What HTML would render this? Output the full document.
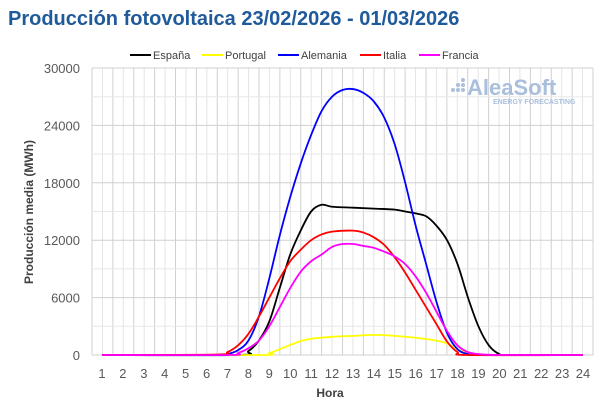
<!DOCTYPE html>
<html><head><meta charset="utf-8"><style>
body{margin:0;background:#fff;width:600px;height:420px;overflow:hidden}
svg{display:block}
text{font-family:"Liberation Sans",sans-serif}
</style></head><body>
<svg id="s" width="600" height="420" xmlns="http://www.w3.org/2000/svg">
<text x="8" y="25" font-size="20" font-weight="bold" fill="#1f5a9a">Producción fotovoltaica 23/02/2026 - 01/03/2026</text>
<g id="grid"></g>
<g font-size="11" fill="#404040">
<line x1="130" y1="55" x2="151" y2="55" stroke="#000" stroke-width="2"/><text x="153" y="59">España</text>
<line x1="202" y1="55" x2="223" y2="55" stroke="#ffff00" stroke-width="2"/><text x="225" y="59">Portugal</text>
<line x1="278" y1="55" x2="299" y2="55" stroke="#0000ff" stroke-width="2"/><text x="301" y="59">Alemania</text>
<line x1="360" y1="55" x2="381" y2="55" stroke="#ff0000" stroke-width="2"/><text x="383" y="59">Italia</text>
<line x1="419" y1="55" x2="440" y2="55" stroke="#ff00ff" stroke-width="2"/><text x="442" y="59">Francia</text>
</g>
<g fill="#a9bfdc"><circle cx="453" cy="90" r="2"/><circle cx="458" cy="90" r="2"/><circle cx="458" cy="85" r="2"/><circle cx="463" cy="90" r="2"/><circle cx="463" cy="85" r="2"/><circle cx="463" cy="80" r="2"/>
<text x="467" y="95" font-size="22" font-weight="bold">AleaSoft</text>
<text x="493" y="104" font-size="7" font-weight="bold">ENERGY FORECASTING</text></g>
<g id="series"></g>
<text x="330" y="397" font-size="12" font-weight="bold" fill="#404040" text-anchor="middle">Hora</text>
<text transform="translate(33,212) rotate(-90)" font-size="12" font-weight="bold" fill="#404040" text-anchor="middle">Producción media (MWh)</text>
</svg>
<script>
const X=h=>102+(h-1)*20.913, Y=v=>355-v*287/30000;
let g=document.getElementById('grid'),h='';
for(let i=0;i<=48;i++){let x=92+i*10.4375;h+=`<line x1="${x}" y1="68" x2="${x}" y2="355" stroke="${i%2?'#e4e4e4':'#d0d0d0'}" stroke-width="1"/>`;}
for(let v=0;v<=30000;v+=3000){let y=Y(v);h+=`<line x1="92" y1="${y}" x2="593" y2="${y}" stroke="${v%6000?'#e8e8e8':'#d0d0d0'}" stroke-width="1"/>`;
if(v%6000==0)h+=`<text x="80" y="${y+5}" font-size="13" fill="#595959" text-anchor="end">${v}</text>`;}
for(let i=1;i<=24;i++)h+=`<text x="${X(i)}" y="378" font-size="13" fill="#595959" text-anchor="middle">${i}</text>`;
g.innerHTML=h;
const D={
'#000':[[1,0],[7.5,0],[8,400],[8.5,1500],[9,3500],[9.5,7000],[10,10500],[10.5,13000],[11,15000],[11.5,15700],[12,15500],[13,15400],[14,15300],[15,15200],[15.5,15000],[16,14800],[16.5,14500],[17,13500],[17.5,12000],[18,9500],[18.5,6000],[19,3000],[19.5,1000],[20,100],[20.5,0],[24,0]],
'#ffff00':[[1,0],[8.5,0],[9,200],[9.5,600],[10,1050],[10.5,1450],[11,1700],[12,1900],[13,2000],[14,2100],[15,2000],[16,1800],[17,1500],[17.5,1200],[18,600],[18.5,200],[19,50],[19.5,0],[24,0]],
'#0000ff':[[1,0],[6.5,0],[7,100],[7.5,500],[8,1500],[8.5,4000],[9,8000],[9.5,12500],[10,16500],[10.5,20000],[11,23000],[11.5,25500],[12,27000],[12.5,27700],[13,27800],[13.5,27400],[14,26500],[14.5,24800],[15,22000],[15.5,18000],[16,13500],[16.5,9500],[17,5500],[17.5,2300],[18,600],[18.5,100],[19,0],[24,0]],
'#ff0000':[[1,0],[6.5,50],[7,300],[7.5,1000],[8,2200],[8.5,4000],[9,6000],[9.5,8000],[10,9800],[10.5,11000],[11,12000],[11.5,12600],[12,12900],[13,13000],[13.5,12800],[14,12300],[14.5,11500],[15,10200],[15.5,8600],[16,6800],[16.5,5000],[17,3200],[17.5,1400],[18,300],[18.5,0],[24,0]],
'#ff00ff':[[1,0],[7,0],[7.5,200],[8,700],[8.5,1500],[9,3000],[9.5,5000],[10,7000],[10.5,8700],[11,9800],[11.5,10500],[12,11300],[12.5,11600],[13,11600],[13.5,11400],[14,11200],[14.5,10800],[15,10300],[15.5,9500],[16,8200],[16.5,6500],[17,4500],[17.5,2500],[18,1000],[18.5,300],[19,100],[20,0],[24,0]]};
let s='';
for(const c in D){const p=D[c].map(([a,b])=>[X(a),Y(b)]);let d=`M${p[0]}`;
for(let i=0;i<p.length-1;i++){const p0=p[i-1]||p[i],p1=p[i],p2=p[i+1],p3=p[i+2]||p2;
d+=` C${p1[0]+(p2[0]-p0[0])/6},${p1[1]+(p2[1]-p0[1])/6} ${p2[0]-(p3[0]-p1[0])/6},${p2[1]-(p3[1]-p1[1])/6} ${p2[0]},${p2[1]}`;}
s+=`<path d="${d}" fill="none" stroke="${c}" stroke-width="1.8"/>`;}
document.getElementById('series').innerHTML=s;
</script>
</body></html>
